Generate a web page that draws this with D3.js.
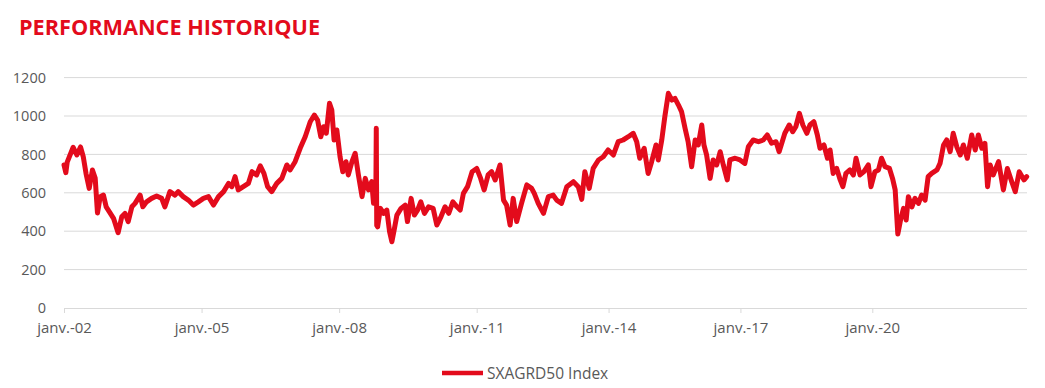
<!DOCTYPE html>
<html>
<head>
<meta charset="utf-8">
<script src="https://cdn.jsdelivr.net/npm/d3@7"></script>
<style>
  body { margin: 0; background: #fff; }
  svg { display: block; }
</style>
</head>
<body>
<svg id="chart" width="1045" height="388"></svg>
<script>
// Values (dates as decimal years)
const dates = [
  2002.00, 2002.04, 2002.07, 2002.20, 2002.28, 2002.36, 2002.42, 2002.48, 2002.55, 2002.62,
  2002.68, 2002.73, 2002.79, 2002.86, 2002.92, 2002.99, 2003.08, 2003.18, 2003.26, 2003.33,
  2003.40, 2003.48, 2003.55, 2003.66, 2003.72, 2003.80, 2003.91, 2004.02, 2004.13, 2004.20,
  2004.31, 2004.42, 2004.49, 2004.60, 2004.71, 2004.82, 2004.93, 2005.04, 2005.15, 2005.26,
  2005.37, 2005.48, 2005.59, 2005.66, 2005.73, 2005.80, 2005.91, 2006.02, 2006.10, 2006.20,
  2006.28, 2006.36, 2006.44, 2006.53, 2006.64, 2006.75, 2006.86, 2006.93, 2007.04, 2007.15,
  2007.26, 2007.37, 2007.46, 2007.53, 2007.60, 2007.66, 2007.72, 2007.79, 2007.84, 2007.89,
  2007.95, 2008.02, 2008.08, 2008.15, 2008.20, 2008.28, 2008.35, 2008.42, 2008.50, 2008.57,
  2008.64, 2008.71, 2008.75, 2008.80, 2008.81, 2008.82, 2008.84, 2008.90, 2008.97, 2009.04,
  2009.10, 2009.15, 2009.20, 2009.26, 2009.35, 2009.44, 2009.49, 2009.57, 2009.64, 2009.71,
  2009.78, 2009.86, 2009.95, 2010.05, 2010.13, 2010.22, 2010.31, 2010.39, 2010.48, 2010.57,
  2010.64, 2010.71, 2010.80, 2010.90, 2011.00, 2011.09, 2011.17, 2011.26, 2011.34, 2011.42,
  2011.53, 2011.61, 2011.68, 2011.76, 2011.83, 2011.91, 2012.02, 2012.14, 2012.25, 2012.31,
  2012.40, 2012.52, 2012.63, 2012.74, 2012.82, 2012.93, 2013.05, 2013.20, 2013.31, 2013.39,
  2013.46, 2013.56, 2013.65, 2013.77, 2013.88, 2013.99, 2014.11, 2014.22, 2014.33, 2014.45,
  2014.56, 2014.64, 2014.71, 2014.81, 2014.90, 2014.98, 2015.08, 2015.13, 2015.21, 2015.28,
  2015.36, 2015.44, 2015.51, 2015.59, 2015.66, 2015.74, 2015.81, 2015.89, 2015.97, 2016.04,
  2016.12, 2016.17, 2016.23, 2016.31, 2016.38, 2016.46, 2016.54, 2016.61, 2016.70, 2016.76,
  2016.88, 2016.99, 2017.10, 2017.18, 2017.29, 2017.41, 2017.52, 2017.61, 2017.71, 2017.81,
  2017.88, 2017.94, 2018.01, 2018.11, 2018.19, 2018.26, 2018.34, 2018.42, 2018.51, 2018.58,
  2018.67, 2018.75, 2018.81, 2018.90, 2018.98, 2019.04, 2019.11, 2019.19, 2019.27, 2019.33,
  2019.40, 2019.49, 2019.57, 2019.63, 2019.72, 2019.81, 2019.91, 2019.97, 2020.06, 2020.14,
  2020.21, 2020.29, 2020.39, 2020.46, 2020.52, 2020.58, 2020.65, 2020.71, 2020.77, 2020.82,
  2020.90, 2020.97, 2021.05, 2021.12, 2021.20, 2021.27, 2021.35, 2021.47, 2021.54, 2021.62,
  2021.69, 2021.77, 2021.84, 2021.92, 2022.00, 2022.07, 2022.16, 2022.26, 2022.34, 2022.41,
  2022.49, 2022.56, 2022.62, 2022.68, 2022.75, 2022.87, 2022.98, 2023.07, 2023.17, 2023.25,
  2023.34, 2023.45, 2023.51
]

const sxagrd50 = [
  745, 705, 760, 837, 797, 839, 788, 701, 623, 719,
  677, 495, 580, 588, 527, 501, 467, 392, 475, 493,
  450, 527, 545, 588, 527, 553, 571, 583, 571, 527,
  606, 588, 606, 580, 562, 536, 553, 571, 580, 536,
  580, 606, 649, 632, 684, 615, 632, 649, 710, 693,
  740, 701, 632, 606, 649, 675, 745, 719, 762, 832,
  892, 970, 1005, 979, 892, 944, 910, 1066, 1031, 875,
  927, 788, 710, 762, 693, 762, 806, 693, 580, 675,
  615, 658, 545, 560, 936, 430, 423, 519, 493, 510,
  397, 345, 406, 484, 519, 536, 450, 571, 484, 510,
  553, 493, 527, 519, 432, 475, 527, 493, 553, 527,
  510, 597, 632, 710, 727, 675, 615, 693, 710, 667,
  745, 562, 536, 432, 571, 450, 545, 641, 623, 597,
  545, 493, 580, 588, 562, 545, 632, 658, 632, 566,
  710, 623, 727, 771, 788, 823, 797, 866, 875, 892,
  910, 866, 780, 832, 701, 762, 849, 771, 875, 997,
  1118, 1083, 1092, 1057, 1023, 936, 866, 736, 875, 849,
  953, 849, 797, 675, 771, 745, 814, 745, 667, 771,
  780, 771, 753, 840, 875, 866, 875, 901, 858, 866,
  814, 858, 910, 953, 918, 944, 1014, 953, 910, 953,
  970, 901, 832, 849, 780, 823, 701, 727, 667, 632,
  701, 719, 693, 780, 693, 710, 745, 632, 710, 719,
  780, 736, 727, 675, 615, 385, 467, 519, 458, 580,
  527, 571, 545, 588, 562, 684, 701, 719, 753, 849,
  875, 814, 910, 840, 797, 849, 780, 901, 823, 901,
  832, 858, 632, 745, 693, 762, 615, 727, 658, 606,
  710, 667, 684
]

const seriesName = "SXAGRD50 Index"
const yTicks = [0, 200, 400, 600, 800, 1000, 1200]
const xTickYears = [2002, 2005, 2008, 2011, 2014, 2017, 2020]
const xTickLabels = ["janv.-02", "janv.-05", "janv.-08", "janv.-11", "janv.-14", "janv.-17", "janv.-20"]

const red = "#e30b1c"
const grey = "#595959"
const gridColor = "#d9d9d9"
const font = "'Open Sans', sans-serif"

const data = dates.map((d, i) => ({date: d, value: sxagrd50[i]}))

const svg = d3.select("#chart")

// The date axis of the original is not uniform, so the scale is piecewise
const x = d3.scaleLinear()
  .domain([2002, 2011, 2020, 2023.51])
  .range([64, 476.7, 872.3, 1026.7])

const y = d3.scaleLinear()
  .domain([0, 1200])
  .range([308, 77.6])

// Title
svg.append("text")
  .attr("x", 19)
  .attr("y", 35)
  .attr("fill", red)
  .style("font-family", font)
  .style("font-weight", 700)
  .style("font-size", "21.7px")
  .text("PERFORMANCE HISTORIQUE")

// Horizontal grid + y labels
const yAxis = svg.append("g")
yAxis.selectAll("line")
  .data(yTicks.filter(d => d > 0))
  .join("line")
  .attr("x1", 64)
  .attr("x2", 1027)
  .attr("y1", d => y(d))
  .attr("y2", d => y(d))
  .attr("stroke", gridColor)
  .attr("stroke-width", 1)

yAxis.selectAll("text")
  .data(yTicks)
  .join("text")
  .attr("x", 46)
  .attr("y", d => y(d))
  .attr("dy", "0.36em")
  .attr("text-anchor", "end")
  .attr("fill", grey)
  .style("font-family", font)
  .style("font-size", "14.5px")
  .text(d => d)

// Bottom axis
const xAxis = svg.append("g")
  .attr("transform", `translate(0,${y(0)})`)
  .call(d3.axisBottom(x)
    .tickValues(xTickYears)
    .tickSize(5)
    .tickFormat((d, i) => xTickLabels[i]))

xAxis.select(".domain")
  .attr("d", `M${x.range()[0]},0.5H1027`)
  .attr("stroke", gridColor)
xAxis.selectAll(".tick line")
  .attr("stroke", gridColor)
xAxis.selectAll(".tick text")
  .attr("y", 14)
  .attr("fill", grey)
  .style("font-family", font)
  .style("font-size", "15px")

// Series
const line = d3.line()
  .x(d => x(d.date))
  .y(d => y(d.value))

svg.append("path")
  .datum(data)
  .attr("d", line)
  .attr("fill", "none")
  .attr("stroke", red)
  .attr("stroke-width", 5)
  .attr("stroke-linejoin", "round")
  .attr("stroke-linecap", "round")

// Legend
const legend = svg.append("g")
  .attr("transform", "translate(442,373)")
legend.append("line")
  .attr("x1", 0)
  .attr("x2", 41)
  .attr("stroke", red)
  .attr("stroke-width", 4.5)
legend.append("text")
  .attr("x", 45)
  .attr("dy", "0.36em")
  .attr("fill", grey)
  .style("font-family", font)
  .style("font-size", "15.5px")
  .text(seriesName)
</script>
</body>
</html>
